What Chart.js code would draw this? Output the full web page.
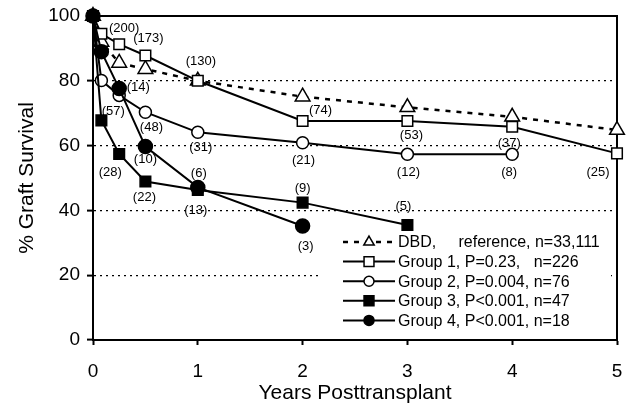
<!DOCTYPE html>
<html>
<head>
<meta charset="utf-8">
<title>Graft survival</title>
<script src="https://cdn.jsdelivr.net/npm/chart.js@4.4.1/dist/chart.umd.min.js"></script>
<style>
  html, body { margin: 0; padding: 0; background: #fff; }
  #wrap { width: 631px; height: 408px; position: relative; }
</style>
</head>
<body>
<div id="wrap"><canvas id="survival-chart"></canvas></div>
<script>
// --- Data ---
const years = [0, 0.08, 0.25, 0.5, 1, 2, 3, 4, 5];

const dbdSurvival    = [100, 92.0, 85.5, 83.6, 80.0, 75.1, 71.8, 68.9, 64.8];
const group1Survival = [100, 94.5, 91.3, 87.8, 80.0, 67.6, 67.6, 65.8, 57.6];
const group2Survival = [100, 80.1, 75.5, 70.3, 64.1, 60.9, 57.3, 57.3, null];
const group3Survival = [100, 67.8, 57.4, 48.9, 46.3, 42.4, 35.5, null, null];
const group4Survival = [100, 89.0, 77.6, 59.7, 47.1, 35.2, null, null, null];

// numbers at risk printed next to the points
const group1AtRisk = [null, null, '(200)', '(173)', '(130)', '(74)', '(53)', '(37)', '(25)'];
const group2AtRisk = [null, null, '(57)', '(48)', '(31)', '(21)', '(12)', '(8)', null];
const group3AtRisk = [null, null, '(28)', '(22)', '(13)', '(9)', '(5)', null, null];
const group4AtRisk = [null, null, '(14)', '(10)', '(6)', '(3)', null, null, null];

const xTickValues = [0, 1, 2, 3, 4, 5];
const yTickValues = [0, 20, 40, 60, 80, 100];

const seriesLabels = [
    'DBD,     reference, n=33,111',
    'Group 1, P=0.23,   n=226',
    'Group 2, P=0.004, n=76',
    'Group 3, P<0.001, n=47',
    'Group 4, P<0.001, n=18'
];

const FONT = '"Liberation Sans", Arial, Helvetica, sans-serif';

// --- Marker drawing (used by the legend) ---
function drawMarker(ctx, style, filled, x, y, r) {
    ctx.save();
    ctx.lineWidth = 1.5;
    ctx.setLineDash([]);
    ctx.strokeStyle = '#000';
    ctx.fillStyle = filled ? '#000' : '#fff';
    ctx.beginPath();
    if (style === 'triangle') {
        ctx.moveTo(x, y - r);
        ctx.lineTo(x + r * 0.866, y + r * 0.5);
        ctx.lineTo(x - r * 0.866, y + r * 0.5);
        ctx.closePath();
    } else if (style === 'rect') {
        const s = r * Math.SQRT1_2;
        ctx.rect(x - s, y - s, 2 * s, 2 * s);
    } else {
        ctx.arc(x, y, r, 0, Math.PI * 2);
    }
    ctx.fill();
    ctx.stroke();
    ctx.restore();
}

// --- Plugins ---
const framePlugin = {
    id: 'frame',
    beforeDatasetsDraw(chart) {
        const { ctx, chartArea: a } = chart;
        ctx.save();
        ctx.strokeStyle = '#000';
        ctx.lineWidth = 2;
        ctx.beginPath();
        ctx.moveTo(a.left, a.top);
        ctx.lineTo(a.right, a.top);
        ctx.lineTo(a.right, a.bottom);
        ctx.stroke();
        ctx.restore();
    }
};

const countLabelPlugin = {
    id: 'countLabels',
    afterDatasetsDraw(chart, args, opts) {
        const { ctx } = chart;
        ctx.save();
        ctx.font = '13px ' + FONT;
        ctx.fillStyle = '#000';
        ctx.textAlign = 'center';
        ctx.textBaseline = 'middle';
        chart.data.datasets.forEach((ds, i) => {
            if (!ds.atRisk) return;
            const meta = chart.getDatasetMeta(i);
            const offs = opts.offsets[i] || [];
            ds.atRisk.forEach((txt, j) => {
                if (!txt) return;
                const pt = meta.data[j];
                const [dx, dy] = offs[j] || [0, -15];
                ctx.fillText(txt, pt.x + dx, pt.y + dy);
            });
        });
        ctx.restore();
    }
};

const legendPlugin = {
    id: 'lineLegend',
    afterDraw(chart) {
        const { ctx, chartArea: a } = chart;
        const boxLeft = a.left + 229, boxTop = a.top + 216;
        const boxRight = a.right - 6, boxBottom = a.bottom - 8;
        const lineX0 = a.left + 250, lineLen = 52;
        const textX = lineX0 + lineLen + 3;
        const rowY0 = a.top + 226, rowH = 19.6;

        ctx.save();
        ctx.fillStyle = '#fff';
        ctx.fillRect(boxLeft, boxTop, boxRight - boxLeft, boxBottom - boxTop);

        chart.data.datasets.forEach((ds, i) => {
            const y = rowY0 + i * rowH;
            ctx.save();
            ctx.strokeStyle = '#000';
            ctx.lineWidth = ds.borderWidth;
            ctx.setLineDash(ds.borderDash || []);
            ctx.beginPath();
            ctx.moveTo(lineX0, y);
            ctx.lineTo(lineX0 + lineLen, y);
            ctx.stroke();
            ctx.restore();
            drawMarker(ctx, ds.pointStyle, ds.pointBackgroundColor === '#000',
                lineX0 + lineLen / 2, y, ds.pointStyle === 'triangle' ? 6 : (ds.pointStyle === 'rect' ? 7 : 5));

            ctx.fillStyle = '#000';
            ctx.font = '16px ' + FONT;
            ctx.textAlign = 'left';
            ctx.textBaseline = 'middle';
            ctx.fillText(ds.label, textX, y + 1);
        });
        ctx.restore();
    }
};

// --- Chart ---
function series(label, values, style, filled, radius, extra) {
    return Object.assign({
        label,
        data: values.map((v, i) => ({ x: years[i], y: v })),
        borderColor: '#000',
        borderWidth: 2,
        pointStyle: style,
        pointRadius: radius,
        pointHoverRadius: radius,
        pointBorderWidth: 1.5,
        pointBorderColor: '#000',
        pointBackgroundColor: filled ? '#000' : '#fff',
        tension: 0,
        spanGaps: false,
        clip: false
    }, extra);
}

const datasets = [
    series(seriesLabels[0], dbdSurvival, 'triangle', false, 8.5, { borderDash: [5, 6], borderWidth: 2.5, order: 5 }),
    series(seriesLabels[1], group1Survival, 'rect', false, 7.5, { atRisk: group1AtRisk, order: 4 }),
    series(seriesLabels[2], group2Survival, 'circle', false, 6, { atRisk: group2AtRisk, order: 3 }),
    series(seriesLabels[3], group3Survival, 'rect', true, 7.5, { atRisk: group3AtRisk, order: 2 }),
    series(seriesLabels[4], group4Survival, 'circle', true, 7, { atRisk: group4AtRisk, order: 1 })
];

new Chart(document.getElementById('survival-chart'), {
    type: 'line',
    data: { datasets },
    options: {
        responsive: true,
        maintainAspectRatio: false,
        animation: false,
        devicePixelRatio: 1,
        layout: { padding: { left: 0, right: 14, top: 16, bottom: 0 } },
        scales: {
            x: {
                type: 'linear',
                min: 0,
                max: 5,
                afterBuildTicks: s => { s.ticks = xTickValues.map(v => ({ value: v })); },
                afterFit: s => { s.height = 68; s.paddingLeft = 0; s.paddingRight = 0; },
                border: { display: true, color: '#000', width: 2 },
                grid: { drawOnChartArea: false, tickLength: 5, tickColor: '#000', tickWidth: 2 },
                ticks: { color: '#000', font: { family: FONT, size: 19 }, padding: 15 },
                title: {
                    display: true,
                    text: 'Years Posttransplant',
                    color: '#000',
                    font: { family: FONT, size: 21 },
                    padding: { top: 0, bottom: 2 }
                }
            },
            y: {
                min: 0,
                max: 100,
                afterBuildTicks: s => { s.ticks = yTickValues.map(v => ({ value: v })); },
                afterFit: s => { s.width = 93; s.paddingTop = 0; s.paddingBottom = 0; },
                border: { display: true, color: '#000', width: 2, dash: [2, 4] },
                grid: {
                    color: c => (c.tick.value > 0 && c.tick.value < 100) ? '#000' : 'rgba(0,0,0,0)',
                    lineWidth: 1.2,
                    tickLength: 6,
                    tickColor: '#000',
                    tickWidth: 2,
                    tickBorderDash: []
                },
                ticks: { color: '#000', font: { family: FONT, size: 19 }, padding: 7 },
                title: {
                    display: true,
                    text: '% Graft Survival',
                    color: '#000',
                    font: { family: FONT, size: 21 },
                    padding: { top: 15, bottom: 0 }
                }
            }
        },
        plugins: {
            legend: { display: false },
            tooltip: { enabled: false },
            countLabels: {
                offsets: {
                    1: [null, null, [5, -16], [3, -17], [3, -19], [18, -11], [4, 14], [-3, 17], [-19, 19]],
                    2: [null, null, [-6, 16], [6, 15], [3, 15], [1, 18], [1, 18], [-3, 18], null],
                    3: [null, null, [-9, 18], [-1, 16], [-2, 20], [0, -14], [-4, -19], null, null],
                    4: [null, null, [19, -1], [0, 13], [1, -14], [3, 20], null, null, null]
                }
            }
        }
    },
    plugins: [framePlugin, countLabelPlugin, legendPlugin]
});
</script>
</body>
</html>
